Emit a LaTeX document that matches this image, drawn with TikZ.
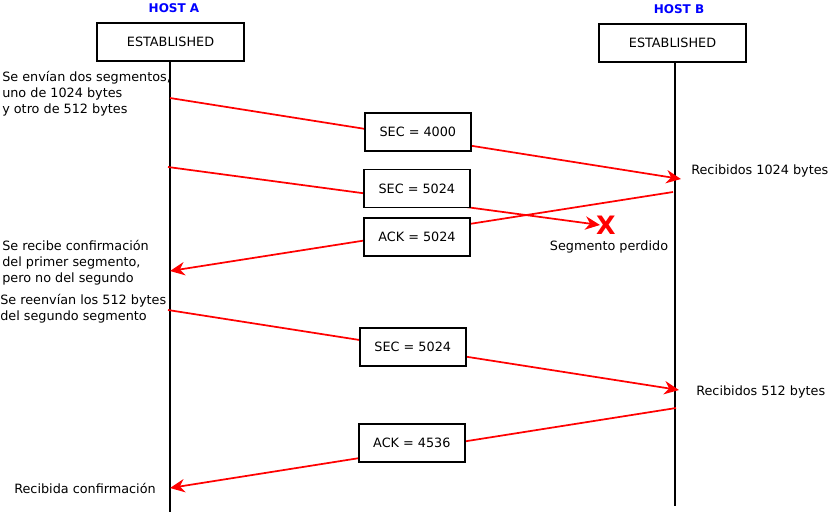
\documentclass[tikz,border=0pt]{standalone}
\usepackage{fontspec}
\setmainfont{DejaVu Sans}
\usetikzlibrary{arrows.meta, positioning}

\begin{document}
\begin{tikzpicture}[x=0.75pt, y=-0.75pt,
		font=\fontsize{9.6}{12}\selectfont,
		host/.style={text=blue, font=\fontsize{9}{11}\selectfont\bfseries},
		state/.style={draw, line width=1.3pt, fill=white, minimum width=110.25pt, minimum height=28.5pt},
		seg/.style={draw=black, line width=1.3pt, fill=white, minimum width=79.5pt, minimum height=28.5pt},
		life/.style={line width=1.3pt},
		msg/.style={draw=red, line width=1.3pt, -{Stealth[length=11pt, width=10pt, inset=3.5pt]}},
		note/.style={align=left, inner sep=0pt, anchor=west}]
		
		\useasboundingbox (0,0) rectangle (828,512);
		
		%host A
		\node[host] (hostA) at (174,8) {HOST A};
		\node[state] (estA) at (170.5,42) {ESTABLISHED};
		\coordinate (endA) at (170,512);
		%host B
		\node[host] (hostB) at (679,9) {HOST B};
		\node[state] (estB) at (672.5,43) {ESTABLISHED};
		\coordinate (endB) at (675,506);
		
		%ends of the messages
		\coordinate (a1) at (170,98);
		\coordinate (b1) at (681,179);
		\coordinate (a2) at (168,167);
		\coordinate (b2) at (600,225);
		\coordinate (b3) at (673,192);
		\coordinate (a3) at (170,271);
		\coordinate (a4) at (168,310);
		\coordinate (b4) at (679,390);
		\coordinate (b5) at (676,408);
		\coordinate (a5) at (170,488);
		
		%notes
		\node[note] (sent) at (2,94) {Se envían dos segmentos,\\uno de 1024 bytes\\y otro de 512 bytes};
		\node[note] (recv1) at (691,171) {Recibidos 1024 bytes};
		\node[inner sep=0pt] (lost) at (609,246.5) {Segmento perdido};
		\node[inner sep=0pt, text=red, font=\fontsize{19}{19}\selectfont\bfseries] (cross) at (606,225) {X};
		\node[note] (ackA) at (2,263) {Se recibe confirmación\\del primer segmento,\\pero no del segundo};
		\node[note] (resend) at (0,309) {Se reenvían los 512 bytes\\del segundo segmento};
		\node[note] (recv2) at (696,392) {Recibidos 512 bytes};
		\node[note] (ackB) at (14,488) {Recibida confirmación};
		
		% lifelines
		\draw[life] (estA.south -| endA) -- (endA);
		\draw[life] (estB.south -| endB) -- (endB);
		
		% SEC 4000
		\draw[msg] (a1) -- node[seg, pos=0.485, yshift=3.75pt] (sec1) {SEC = 4000} (b1);
		% SEC 5024 (lost)
		\draw[msg] (a2) -- node[seg, pos=0.576, yshift=9pt] (sec2) {SEC = 5024} (b2);
		% ACK 5024
		\draw[msg] (b3) -- node[seg, pos=0.509, yshift=-3.75pt] (ack1) {ACK = 5024} (a3);
		% SEC 5024 again
		\draw[msg] (a4) -- node[seg, pos=0.479, yshift=0.75pt] (sec3) {SEC = 5024} (b4);
		% ACK 4536
		\draw[msg] (b5) -- node[seg, pos=0.522, yshift=5.25pt] (ack2) {ACK = 4536} (a5);
		
\end{tikzpicture}
\end{document}
